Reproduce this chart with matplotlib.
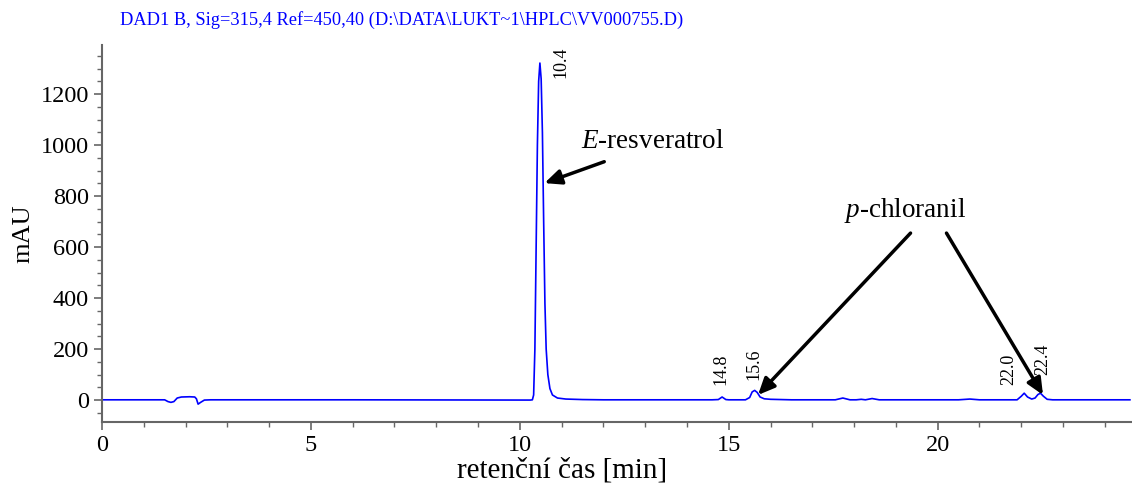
import matplotlib.pyplot as plt
from matplotlib.ticker import MultipleLocator

plt.rcParams['font.family'] = ['Liberation Serif', 'DejaVu Serif']
plt.rcParams['mathtext.fontset'] = 'custom'
plt.rcParams['mathtext.rm'] = 'Liberation Serif'
plt.rcParams['mathtext.it'] = 'Liberation Serif:italic'

# chromatogram trace (time [min], signal [mAU])
time = [0.0, 1.50, 1.58, 1.65, 1.72, 1.80, 1.90, 2.10, 2.22, 2.26, 2.30, 2.36, 2.45, 2.60,
        6.0, 10.25, 10.30, 10.33, 10.36, 10.39, 10.42, 10.45, 10.48, 10.51, 10.54, 10.57,
        10.60, 10.63, 10.67, 10.72, 10.78, 10.90, 11.10, 11.50, 12.0,
        14.60, 14.75, 14.84, 14.93, 15.00,
        15.40, 15.50, 15.56, 15.62, 15.68, 15.75, 15.85, 16.00, 16.50,
        17.55, 17.73, 17.90, 18.05, 18.17, 18.27, 18.43, 18.60,
        20.50, 20.77, 21.00,
        21.90, 22.00, 22.07, 22.15, 22.25, 22.33, 22.40, 22.46, 22.53, 22.62, 22.75, 24.6]
signal = [1, 1, -6, -9, -6, 8, 12, 13, 12, 5, -16, -9, 0, 1,
          1, 0, 1, 20, 200, 600, 1000, 1250, 1322, 1260, 1050, 700,
          380, 200, 100, 45, 20, 8, 4, 2, 1,
          1, 2, 12, 2, 1,
          1, 10, 32, 38, 30, 12, 5, 3, 1,
          1, 8, 1, 1, 3, 1, 6, 1,
          1, 4, 1,
          1, 15, 27, 12, 4, 8, 22, 27, 15, 3, 1, 1]

# retention time labels
peak_rt = ['10.4', '14.8', '15.6', '22.0', '22.4']
label_x = [10.99, 14.82, 15.59, 21.70, 22.51]
label_y = [1265, 58, 78, 58, 98]

fig = plt.figure(figsize=(11.32, 4.86), dpi=100)
ax = fig.add_axes([0.0901, 0.1317, 0.9099, 0.7753])

ax.plot(time, signal, color='#0000ff', lw=1.2)

for txt, x, y in zip(peak_rt, label_x, label_y):
    ax.text(x, y, txt, rotation=90, ha='center', va='bottom', fontsize=13)

arrow = dict(arrowstyle='-|>,head_length=1.0,head_width=0.45', color='black', lw=2.5,
             shrinkA=0, shrinkB=0)
ax.text(11.47, 1016, r'$\it{E}$-resveratrol', fontsize=19.5, va='center', ha='left')
ax.annotate('', xy=(10.59, 851), xytext=(12.02, 935), arrowprops=arrow)
ax.text(17.75, 745, r'$\it{p}$-chloranil', fontsize=19.5, va='center', ha='left')
ax.annotate('', xy=(15.70, 20), xytext=(19.35, 655), arrowprops=arrow)
ax.annotate('', xy=(22.52, 20), xytext=(20.21, 655), arrowprops=arrow)

ax.set_xlim(0, 24.65)
ax.set_ylim(-86, 1392)
ax.xaxis.set_major_locator(MultipleLocator(5))
ax.xaxis.set_minor_locator(MultipleLocator(1))
ax.yaxis.set_major_locator(MultipleLocator(200))
ax.yaxis.set_minor_locator(MultipleLocator(50))

for side in ['top', 'right']:
    ax.spines[side].set_visible(False)
for side in ['left', 'bottom']:
    ax.spines[side].set_color('#666666')
    ax.spines[side].set_linewidth(1.5)
ax.tick_params(which='major', length=6, width=1.2, color='#666666', labelsize=17.5)
ax.tick_params(which='minor', length=3.5, width=1.0, color='#666666')

ax.set_xlabel('retenční čas [min]', fontsize=21)
ax.xaxis.set_label_coords(0.447, -0.093)
ax.xaxis.label.set_va('top')
ax.set_ylabel('mAU', fontsize=19)

fig.text(0.106, 0.958, r'DAD1 B, Sig=315,4 Ref=450,40 (D:\DATA\LUKT~1\HPLC\VV000755.D)',
         color='#0000ff', fontsize=13.2, va='center', ha='left')

plt.savefig('out.png', dpi=100)
